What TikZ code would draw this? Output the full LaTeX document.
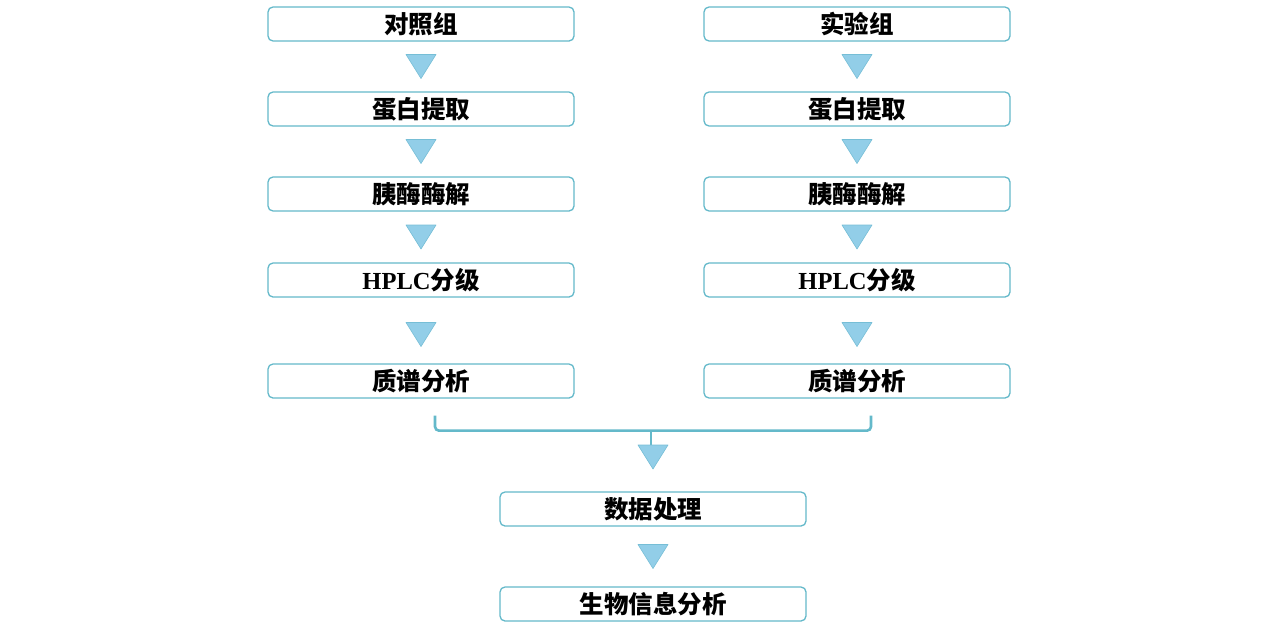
\documentclass[tikz,border=0pt]{standalone}
\usepackage{fontspec}
\setmainfont{Liberation Serif}
\newfontfamily\cjk{Noto Sans CJK SC}
\usetikzlibrary{calc}
\definecolor{boxline}{RGB}{100,185,202}
\definecolor{trifill}{RGB}{146,206,232}
\definecolor{triline}{RGB}{118,190,214}
\begin{document}
\begin{tikzpicture}[x=1pt,y=-1pt,
  stepbox/.style={draw=boxline,line width=1.3pt,rounded corners=5pt,fill=white,
    minimum width=306pt,minimum height=34pt,inner sep=0pt,
    font=\fontsize{24.5}{26}\selectfont\bfseries\cjk},
  tri/.style={fill=trifill,draw=triline,line width=0.6pt,line join=round},
  bracket/.style={draw=boxline,line width=2.6pt,rounded corners=4pt}]
\useasboundingbox (0,0) rectangle (1278,627);
% left column
\node[stepbox] (l1) at (421,24) {对照组};
\node[stepbox] (l2) at (421,109) {蛋白提取};
\node[stepbox] (l3) at (421,194) {胰酶酶解};
\node[stepbox] (l4) at (421,280) {{\rmfamily HPLC}分级};
\node[stepbox] (l5) at (421,381) {质谱分析};
% right column
\node[stepbox] (r1) at (857,24) {实验组};
\node[stepbox] (r2) at (857,109) {蛋白提取};
\node[stepbox] (r3) at (857,194) {胰酶酶解};
\node[stepbox] (r4) at (857,280) {{\rmfamily HPLC}分级};
\node[stepbox] (r5) at (857,381) {质谱分析};
% bottom
\node[stepbox] (b1) at (653,509) {数据处理};
\node[stepbox] (b2) at (653,604) {生物信息分析};
% triangles
\foreach \a/\b/\n in {l1/l2/1,l2/l3/2,l3/l4/3,r1/r2/4,r2/r3/5,r3/r4/6,b1/b2/7}{
  \coordinate (m\n) at ($(\a.south)!0.5!(\b.north)$);
  \filldraw[tri] ($(m\n)+(-15,-12)$) -- ($(m\n)+(15,-12)$) -- ($(m\n)+(0,12)$) -- cycle;
}
\foreach \a/\b/\n in {l4/l5/8,r4/r5/9}{
  \coordinate (m\n) at ($(\a.south)!0.5!(\b.north)+(0,4)$);
  \filldraw[tri] ($(m\n)+(-15,-12)$) -- ($(m\n)+(15,-12)$) -- ($(m\n)+(0,12)$) -- cycle;
}
% bracket
\coordinate (bl) at ($(l5.south)+(14,17)$);
\coordinate (br) at ($(r5.south)+(14,17)$);
\coordinate (bm) at (651,446);
\draw[bracket] (bl) -- ++(0,15) -- ($(br)+(0,15)$) -- (br);
\draw[bracket] ($(bl)!0.5!(br)+(-2,15)$) -- (bm);
\coordinate (m10) at (653,457);
\filldraw[tri] ($(m10)+(-15,-12)$) -- ($(m10)+(15,-12)$) -- ($(m10)+(0,12)$) -- cycle;
\end{tikzpicture}
\end{document}
